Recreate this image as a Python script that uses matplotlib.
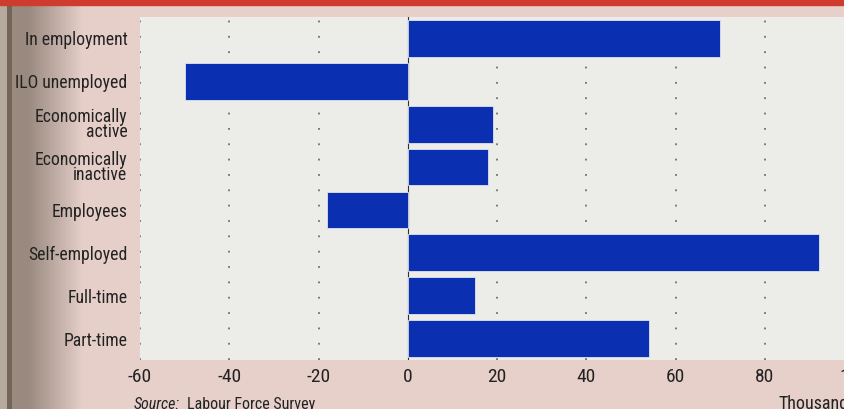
import numpy as np
import matplotlib.pyplot as plt
from matplotlib.patches import Rectangle

categories = ["In employment", "ILO unemployed", "Economically\nactive",
              "Economically\ninactive", "Employees", "Self-employed",
              "Full-time", "Part-time"]
changes = [70, -50, 19, 18, -18, 92, 15, 54]
xticks = [-60, -40, -20, 0, 20, 40, 60, 80, 100]

plt.rcParams['font.family'] = ['Roboto Condensed', 'DejaVu Sans']

fig = plt.figure(figsize=(8.44, 4.09), dpi=100)
fig.patch.set_facecolor("#e7d0ca")

# red band along the top of the page
fig.patches.append(Rectangle((0, 0.987), 1, 0.013, transform=fig.transFigure,
                             color="#cf3b2e", zorder=0))

# shaded binding down the left edge
grad = np.ones((1, 120, 3))
edge = np.array([0.71, 0.67, 0.61])
crease = np.array([0.45, 0.40, 0.36])
dark = np.array([0.60, 0.54, 0.50])
pink = np.array([0.905, 0.815, 0.79])
for i in range(120):
    if i < 7:
        grad[0, i] = edge
    elif i < 12:
        grad[0, i] = crease
    elif i < 28:
        grad[0, i] = dark
    else:
        f = min(1, (i - 28) / 55)
        grad[0, i] = dark * (1 - f) + pink * f
bg = fig.add_axes([0, 0, 120 / 844, 0.987], zorder=-1)
bg.imshow(grad, aspect="auto", extent=(0, 1, 0, 1))
bg.axis("off")

ax = fig.add_axes([140 / 844, 49 / 409, 758 / 844, 343 / 409])
ax.set_facecolor("#ecece8")
y = np.arange(len(categories))
ax.barh(y, changes, height=0.86, color="#0a2fb0", edgecolor="#dfe3f0",
        linewidth=0.6, zorder=3)

for xv in xticks:
    if xv != 0:
        ax.axvline(xv, color="#6f6f6f", linestyle=(0, (1, 7.5)), lw=1.3, zorder=1)
ax.axvline(0, color="#333333", lw=0.8, zorder=2)

ax.set_xlim(-59.8, 109.8)
ax.set_ylim(len(categories) - 0.5, -0.5)
ax.set_xticks(xticks)
ax.set_xticklabels([str(v) for v in xticks], fontsize=14, color="#222222")
ax.set_yticks(y)
ax.set_yticklabels(categories, fontsize=12.7, color="#222222",
                   linespacing=0.8)
ax.tick_params(length=0, pad=9)
ax.tick_params(axis="x", pad=6)
for s in ax.spines.values():
    s.set_visible(False)

fig.text(134 / 844, 0.012, "Source:", fontsize=11.5, style="italic",
         color="#222222", va="center")
fig.text(187 / 844, 0.012, "Labour Force Survey", fontsize=11.5,
         color="#222222", va="center")
fig.text(778 / 844, 0.012, "Thousands", fontsize=13, color="#222222",
         va="center")

fig.savefig("out.png", dpi=100, facecolor=fig.get_facecolor())
